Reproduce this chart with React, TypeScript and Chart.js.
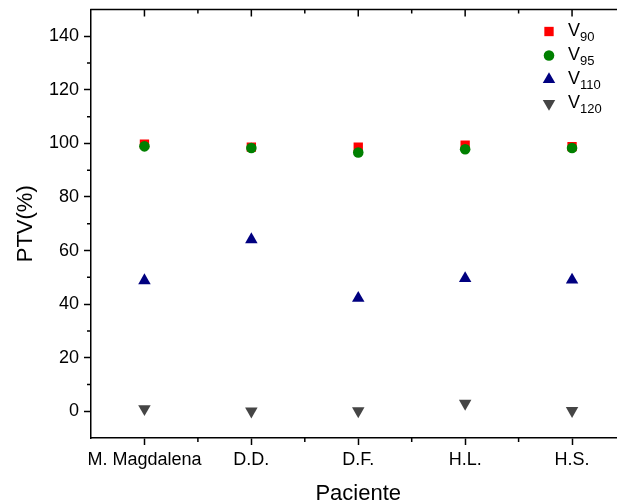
import React, { useEffect, useRef } from "react";
import { Chart, registerables } from "chart.js";

Chart.register(...registerables);

const categories = ["M. Magdalena", "D.D.", "D.F.", "H.L.", "H.S."];
const v90 = [99.7, 98.6, 98.6, 99.3, 98.8];
const v95 = [98.9, 98.3, 96.6, 97.8, 98.3];
const v110 = [48.8, 64.1, 42.2, 49.6, 49.0];
const v120 = [0.9, 0.0, 0.1, 2.9, 0.2];
const yTicks = [0, 20, 40, 60, 80, 100, 120, 140];
const yMinorTicks = [10, 30, 50, 70, 90, 110, 130];
const xMinorTicks = [1.5, 2.5, 3.5, 4.5];
const legendNames = ["90", "95", "110", "120"];

const FONT = "'Liberation Sans', Arial, sans-serif";
const COLORS = ["#ff0000", "#008000", "#000080", "#454545"];
const STYLES = ["rect", "circle", "triangle", "triangle"];
const ROT = [0, 0, 0, 180];
const RAD = [6.6, 5.3, 7.2, 7.2];

function drawMarker(ctx: CanvasRenderingContext2D, i: number, x: number, y: number) {
  const r = RAD[i];
  ctx.save();
  ctx.fillStyle = COLORS[i];
  ctx.beginPath();
  if (STYLES[i] === "rect") {
    const s = Math.SQRT1_2 * r;
    ctx.rect(x - s, y - s, 2 * s, 2 * s);
  } else if (STYLES[i] === "circle") {
    ctx.arc(x, y, r, 0, Math.PI * 2);
  } else {
    const rot = (ROT[i] * Math.PI) / 180;
    for (let k = 0; k < 3; k++) {
      const a = rot - Math.PI / 2 + (k * 2 * Math.PI) / 3;
      const px = x + Math.cos(a) * r;
      const py = y + Math.sin(a) * r;
      if (k === 0) ctx.moveTo(px, py);
      else ctx.lineTo(px, py);
    }
    ctx.closePath();
  }
  ctx.fill();
  ctx.restore();
}

const decorPlugin = {
  id: "decor",
  afterDraw(chart: any) {
    const ctx: CanvasRenderingContext2D = chart.ctx;
    const { left, right, top, bottom } = chart.chartArea;
    const xs = chart.scales.x;
    const ys = chart.scales.y;
    ctx.save();
    ctx.strokeStyle = "#000";
    ctx.lineWidth = 1.5;
    ctx.beginPath();
    ctx.moveTo(left - 0.75, top);
    ctx.lineTo(right, top);
    ctx.stroke();
    ctx.beginPath();
    for (let v = 1; v <= categories.length; v++) {
      const px = xs.getPixelForValue(v);
      ctx.moveTo(px, top);
      ctx.lineTo(px, top + 7);
    }
    for (const v of xMinorTicks) {
      const px = xs.getPixelForValue(v);
      ctx.moveTo(px, top);
      ctx.lineTo(px, top + 4);
      ctx.moveTo(px, bottom);
      ctx.lineTo(px, bottom + 4);
    }
    for (const v of yMinorTicks) {
      const py = ys.getPixelForValue(v);
      ctx.moveTo(left, py);
      ctx.lineTo(left - 4, py);
    }
    ctx.stroke();

    const mx = 549;
    const tx = 568;
    for (let i = 0; i < legendNames.length; i++) {
      const y = 31.5 + i * 24;
      drawMarker(ctx, i, mx, y);
      ctx.fillStyle = "#000";
      ctx.textBaseline = "middle";
      ctx.textAlign = "left";
      ctx.font = `18px ${FONT}`;
      ctx.fillText("V", tx, y);
      const w = ctx.measureText("V").width;
      ctx.font = `13px ${FONT}`;
      ctx.fillText(legendNames[i], tx + w, y + 6);
    }
    ctx.restore();
  },
};

export default function App() {
  const ref = useRef<HTMLCanvasElement | null>(null);
  useEffect(() => {
    if (!ref.current) return;
    const series = [v90, v95, v110, v120];
    const orders = [3, 2, 1, 0];
    const chart = new Chart(ref.current, {
      type: "scatter",
      data: {
        datasets: series.map((vals, i) => ({
          label: "V" + legendNames[i],
          data: vals.map((y, k) => ({ x: k + 1, y })),
          pointStyle: STYLES[i] as any,
          pointRotation: ROT[i],
          pointRadius: RAD[i],
          pointHoverRadius: RAD[i],
          pointBackgroundColor: COLORS[i],
          pointBorderColor: COLORS[i],
          pointBorderWidth: 0,
          showLine: false,
          order: orders[i],
        })),
      },
      plugins: [decorPlugin],
      options: {
        animation: false,
        responsive: false,
        devicePixelRatio: 1,
        layout: { padding: { left: 0, top: 9.5, right: 14.5, bottom: 0 } },
        plugins: {
          legend: { display: false },
          tooltip: { enabled: false },
        },
        scales: {
          x: {
            type: "linear",
            min: 0.5,
            max: 5.5,
            afterBuildTicks: (scale: any) => {
              scale.ticks = categories.map((_, k) => ({ value: k + 1 }));
            },
            afterFit: (scale: any) => {
              scale.height = 64;
              scale.paddingLeft = 0;
              scale.paddingRight = 0;
            },
            ticks: {
              callback: (v: any) => categories[Math.round(Number(v)) - 1] ?? "",
              font: { family: FONT, size: 18 },
              color: "#000",
              padding: 4,
              maxRotation: 0,
              autoSkip: false,
            },
            grid: {
              display: true,
              drawOnChartArea: false,
              drawTicks: true,
              tickLength: 7,
              tickWidth: 1.5,
              tickColor: "#000",
            },
            border: { display: true, color: "#000", width: 1.5 },
            title: {
              display: true,
              text: "Paciente",
              font: { family: FONT, size: 22 },
              color: "#000",
              padding: { top: 4, bottom: -5 },
            },
          },
          y: {
            type: "linear",
            min: -10,
            max: 150,
            afterBuildTicks: (scale: any) => {
              scale.ticks = yTicks.map((v) => ({ value: v }));
            },
            afterFit: (scale: any) => {
              scale.width = 91;
              scale.paddingTop = 0;
              scale.paddingBottom = 0;
            },
            ticks: {
              font: { family: FONT, size: 18 },
              color: "#000",
              padding: 5,
            },
            grid: {
              display: true,
              drawOnChartArea: false,
              drawTicks: true,
              tickLength: 7,
              tickWidth: 1.5,
              tickColor: "#000",
            },
            border: { display: true, color: "#000", width: 1.5 },
            title: {
              display: true,
              text: "PTV(%)",
              font: { family: FONT, size: 22 },
              color: "#000",
              padding: { top: 13, bottom: 6 },
            },
          },
        },
      },
    } as any);
    return () => chart.destroy();
  }, []);
  return (
    <div
      style={{
        position: "absolute",
        left: 0,
        top: 0,
        width: 617,
        height: 502,
        overflow: "hidden",
        background: "#fff",
      }}
    >
      <canvas ref={ref} width={640} height={502} style={{ display: "block", width: 640, height: 502 }} />
    </div>
  );
}
